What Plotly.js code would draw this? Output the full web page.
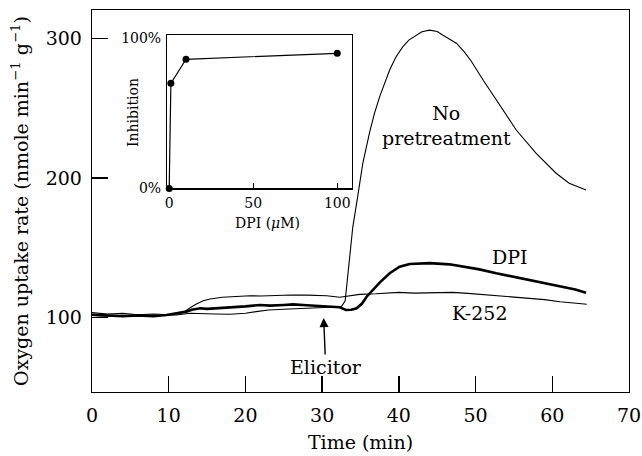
<!DOCTYPE html>
<html>
<head>
<meta charset="utf-8">
<script src="https://cdn.plot.ly/plotly-3.0.1.min.js"></script>
<style>html,body{margin:0;padding:0;background:#fff}#chart{width:642px;height:456px}</style>
</head>
<body>
<div id="chart"></div>
<script>
// Main chart: oxygen uptake rate vs time
const timeNoPre = [0,2,4,6,8,11,12.8,14.1,16,18,20,21.4,23,25,27,29,30.6,32,32.5,33,33.3,33.6,34,34.5,35.3,36.2,36.8,37.5,38.2,38.8,39.6,40.5,41.3,42.3,43,44,45,45.7,46.5,47.5,48.5,49.4,51,52.7,55.3,57.9,60.5,62.2,64.4];
const rateNoPre = [101.5,101,101.5,101,101.2,101.8,103,103,102.5,102.3,103,104.2,105.4,105.9,106.3,106.6,107,107.5,107.7,112,127,146,165,182,210.5,233,246,258.3,268.5,277.4,286.5,294,298.8,302.5,304.8,306,305,302.5,300,296.6,290.5,284,270,256,234.4,217.7,203.4,196.2,191.4];

const timeDPI = [0,2,4,6,8,9.7,11,12.3,13,14.1,15,16,17.1,18,18.8,20,21.9,23.2,25,26.2,28,30.6,32.3,33.1,33.8,34.5,35.2,35.8,36.6,37.5,38.8,40.1,41.4,43,44,46.6,48.4,49.2,50.5,52.7,55,57,59,61.4,63,64.4];
const rateDPI = [102,101.5,101,101.5,101,101.8,103,104.2,105.5,106.6,106.2,106.5,106.9,107.2,107.7,108,109,108.5,109,109.4,108.8,108.2,107.3,105.4,105.5,106.6,110,114.9,120,125,131.7,136.4,138.4,139,139,138.1,136.4,135.8,134.5,131.7,129.2,126.9,124.5,122.1,120,117.8];

const timeK252 = [0,2,4,6,8,10,11,12,12.8,13.6,14.5,15.4,17,19,20.6,22,24,26,28,30.6,32.3,33.5,34.9,37,40,42,45,47,49,51,53,55,57,59,61,63,64.5];
const rateK252 = [103.5,102.5,103,102,102.5,102,102.5,104,107,109.7,112,113.3,114.5,115,115.6,115.4,115.8,116.1,116,115.6,114.5,115.5,116.6,117,118,117.5,117.5,118,117.3,116.5,115.6,114.8,113.8,112.8,111.3,110.5,109.5];

// Inset: inhibition vs DPI concentration
const dpiConc = [0, 1, 10, 100];
const inhibition = [0, 70, 86, 90];

const mainTicks = [0,10,20,30,40,50,60,70];
const yTicks = [100,200,300];
const insetXTicks = [0,50,100];
const insetYTicks = [0,100];
const insetYLabels = ['0%','100%'];

const FONT = 'DejaVu Serif, Liberation Serif, serif';
const FS = 19;

const traces = [
  {x: timeNoPre, y: rateNoPre, type:'scatter', mode:'lines', name:'No pretreatment',
   line:{color:'#000', width:1.1}, xaxis:'x', yaxis:'y'},
  {x: timeK252, y: rateK252, type:'scatter', mode:'lines', name:'K-252',
   line:{color:'#000', width:1.1}, xaxis:'x', yaxis:'y'},
  {x: timeDPI, y: rateDPI, type:'scatter', mode:'lines', name:'DPI',
   line:{color:'#000', width:2.6}, xaxis:'x', yaxis:'y'},
  {x: dpiConc, y: inhibition, type:'scatter', mode:'lines+markers', name:'Inhibition',
   line:{color:'#000', width:1.2}, marker:{color:'#000', size:7},
   cliponaxis:false, xaxis:'x2', yaxis:'y2'}
];

const layout = {
  width: 642, height: 456,
  margin: {l:92, r:13, t:10, b:64},
  paper_bgcolor:'#fff', plot_bgcolor:'#fff',
  showlegend:false,
  font:{family:FONT, color:'#000', size:FS},
  xaxis: {
    range:[0,70], tickvals: mainTicks, ticks:'inside', ticklen:16, tickwidth:1.3, tickcolor:'#000',
    showline:true, linecolor:'#000', linewidth:1.3, mirror:true, showgrid:false, zeroline:false,
    layer:'above traces', ticklabelstandoff: 6,
    tickfont:{family:FONT, size:FS},
    title:{text:'Time (min)', font:{family:FONT, size:FS}, standoff:10}
  },
  yaxis: {
    range:[46.6,320.4], tickvals: yTicks, ticks:'inside', ticklen:16, tickwidth:1.3, tickcolor:'#000',
    showline:true, linecolor:'#000', linewidth:1.3, mirror:true, showgrid:false, zeroline:false,
    layer:'above traces', ticklabelstandoff: 5,
    tickfont:{family:FONT, size:FS},
    title:{text:'Oxygen uptake rate (nmole min<sup>−1</sup> g<sup>−1</sup>)', font:{family:FONT, size:FS}, standoff:12}
  },
  xaxis2: {
    domain:[0.140, 0.4836], anchor:'y2', range:[-1.2,108.6], tickvals: insetXTicks,
    ticks:'inside', ticklen:5, tickcolor:'#000', tickwidth:1,
    showline:true, linecolor:'#000', linewidth:1.2, mirror:true, showgrid:false, zeroline:false,
    tickfont:{family:FONT, size:14}, ticklabelstandoff: 2
  },
  yaxis2: {
    domain:[0.533, 0.9346], anchor:'x2', range:[0,102.2], tickvals: insetYTicks, ticktext: insetYLabels,
    ticks:'', showline:true, linecolor:'#000', linewidth:1.2, mirror:true, showgrid:false, zeroline:false,
    tickfont:{family:FONT, size:14}, ticklabelstandoff: 2
  },
  annotations: [
    {xref:'paper', yref:'paper', x:(267-92)/537, y:(392-223)/382, text:'DPI (<i>μ</i>M)', showarrow:false,
     font:{family:FONT, size:14}, xanchor:'center', yanchor:'middle'},
    {xref:'paper', yref:'paper', x:(133-92)/537, y:(392-113)/382, text:'Inhibition', showarrow:false,
     textangle:-90, font:{family:FONT, size:14}, xanchor:'center', yanchor:'middle'},
    {xref:'x', yref:'y', x:(446.5-92)/7.68, y:100+(317.5-126)/1.395, text:'No<br>pretreatment', showarrow:false,
     font:{family:FONT, size:FS}, xanchor:'center', yanchor:'middle', align:'center'},
    {xref:'x', yref:'y', x:(510-92)/7.68, y:100+(317.5-256.7)/1.395, text:'DPI', showarrow:false,
     font:{family:FONT, size:FS}, xanchor:'center', yanchor:'middle'},
    {xref:'x', yref:'y', x:(480-92)/7.68, y:100+(317.5-313)/1.395, text:'K-252', showarrow:false,
     font:{family:FONT, size:FS}, xanchor:'center', yanchor:'middle'},
    {xref:'x', yref:'y', x:30.2, y:99.6, text:'Elicitor', showarrow:true, ax:2, ay:49,
     arrowhead:2, arrowsize:1.3, arrowwidth:1.4, arrowcolor:'#000', standoff:0,
     font:{family:FONT, size:FS}}
  ]
};

Plotly.newPlot('chart', traces, layout, {displayModeBar:false, staticPlot:true});
</script>
</body>
</html>
